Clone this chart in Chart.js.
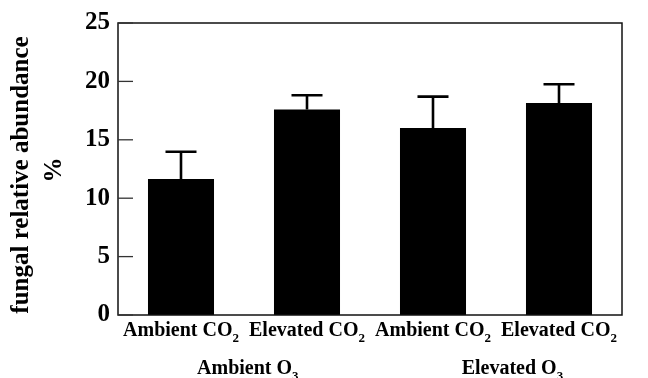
<!DOCTYPE html>
<html>
<head>
<meta charset="utf-8">
<script src="https://cdn.jsdelivr.net/npm/chart.js@4/dist/chart.umd.min.js"></script>
<style>
  html, body { margin: 0; padding: 0; background: #fff; }
  #wrap { width: 648px; height: 378px; }
</style>
</head>
<body>
<div id="wrap"><canvas id="c" width="648" height="378"></canvas></div>
<script>
// ---- data ----
const categories = ['Ambient CO₂', 'Elevated CO₂', 'Ambient CO₂', 'Elevated CO₂'];
const groups = ['Ambient O₃', 'Elevated O₃'];
const values = [11.65, 17.6, 16.0, 18.15];
const errors = [2.33, 1.22, 2.7, 1.6];
const yTicks = [0, 5, 10, 15, 20, 25];
const yTitle = ['fungal relative abundance', '%'];

// layout constants (category-index units for group label centres)
const groupCenters = [0.53, 2.63];

const FONT = '"Liberation Serif", "Times New Roman", serif';
const SUBS = { '₀':'0','₁':'1','₂':'2','₃':'3','₄':'4','₅':'5','₆':'6','₇':'7','₈':'8','₉':'9' };

function drawSubText(ctx, text, cx, cy, size) {
  const runs = [];
  for (const ch of text) {
    const sub = SUBS[ch] !== undefined;
    const c = sub ? SUBS[ch] : ch;
    if (runs.length && runs[runs.length - 1].sub === sub) runs[runs.length - 1].t += c;
    else runs.push({ t: c, sub });
  }
  const subSize = Math.round(size * 0.65);
  let total = 0;
  for (const r of runs) {
    ctx.font = 'bold ' + (r.sub ? subSize : size) + 'px ' + FONT;
    r.w = ctx.measureText(r.t).width;
    total += r.w;
  }
  let x = cx - total / 2;
  ctx.textAlign = 'left';
  ctx.textBaseline = 'alphabetic';
  for (const r of runs) {
    ctx.font = 'bold ' + (r.sub ? subSize : size) + 'px ' + FONT;
    ctx.fillText(r.t, x, r.sub ? cy + size * 0.28 : cy);
    x += r.w;
  }
}

const decor = {
  id: 'decor',
  afterDatasetsDraw(chart) {
    const ctx = chart.ctx;
    const ca = chart.chartArea;
    const ys = chart.scales.y;
    const xs = chart.scales.x;
    ctx.save();
    // error bars (upper only)
    ctx.strokeStyle = '#000';
    ctx.lineWidth = 2.6;
    const meta = chart.getDatasetMeta(0);
    meta.data.forEach((bar, i) => {
      const x = bar.x;
      const yTop = ys.getPixelForValue(values[i]);
      const yErr = ys.getPixelForValue(values[i] + errors[i]);
      ctx.beginPath();
      ctx.moveTo(x, yTop);
      ctx.lineTo(x, yErr);
      ctx.moveTo(x - 15.5, yErr);
      ctx.lineTo(x + 15.5, yErr);
      ctx.stroke();
    });
    // frame
    ctx.lineWidth = 1.5;
    ctx.strokeStyle = '#111';
    ctx.strokeRect(ca.left, ca.top, ca.right - ca.left, ca.bottom - ca.top);
    // inward ticks
    ctx.lineWidth = 1.3;
    ctx.strokeStyle = '#333';
    yTicks.forEach(v => {
      const y = ys.getPixelForValue(v);
      ctx.beginPath();
      ctx.moveTo(ca.left, y);
      ctx.lineTo(ca.left + 15, y);
      ctx.stroke();
    });
    // category labels
    ctx.fillStyle = '#000';
    categories.forEach((lab, i) => {
      drawSubText(ctx, lab, xs.getPixelForValue(i), ca.bottom + 21, 20);
    });
    // group labels
    groups.forEach((lab, i) => {
      drawSubText(ctx, lab, xs.getPixelForValue(groupCenters[i]), ca.bottom + 59, 20);
    });
    // y axis title (two lines, rotated)
    const midY = (ca.top + ca.bottom) / 2;
    ctx.font = 'bold 25px ' + FONT;
    ctx.textAlign = 'center';
    ctx.textBaseline = 'middle';
    ctx.save();
    ctx.translate(22, midY + 6);
    ctx.rotate(-Math.PI / 2);
    ctx.fillText(yTitle[0], 0, 0);
    ctx.restore();
    ctx.save();
    ctx.translate(55, midY + 1);
    ctx.rotate(-Math.PI / 2);
    ctx.fillText(yTitle[1], 0, 0);
    ctx.restore();
    ctx.restore();
  }
};

new Chart(document.getElementById('c'), {
  type: 'bar',
  data: {
    labels: categories,
    datasets: [{
      data: values,
      backgroundColor: '#000',
      borderWidth: 0,
      barPercentage: 0.524,
      categoryPercentage: 1.0
    }]
  },
  options: {
    responsive: false,
    animation: false,
    devicePixelRatio: 1,
    layout: { padding: { top: 22, right: 26, left: 0, bottom: 0 } },
    plugins: { legend: { display: false }, tooltip: { enabled: false } },
    scales: {
      x: {
        grid: { display: false, drawTicks: false },
        border: { display: false },
        ticks: { display: false },
        afterFit(s) { s.height = 63; }
      },
      y: {
        min: 0, max: 25,
        grid: { display: false, drawTicks: false },
        border: { display: false },
        ticks: {
          stepSize: 5,
          padding: 8,
          color: '#000',
          font: { family: FONT, size: 25, weight: 'bold' }
        },
        title: { display: false },
        afterFit(s) { s.width = 118; }
      }
    }
  },
  plugins: [decor]
});
</script>
</body>
</html>
